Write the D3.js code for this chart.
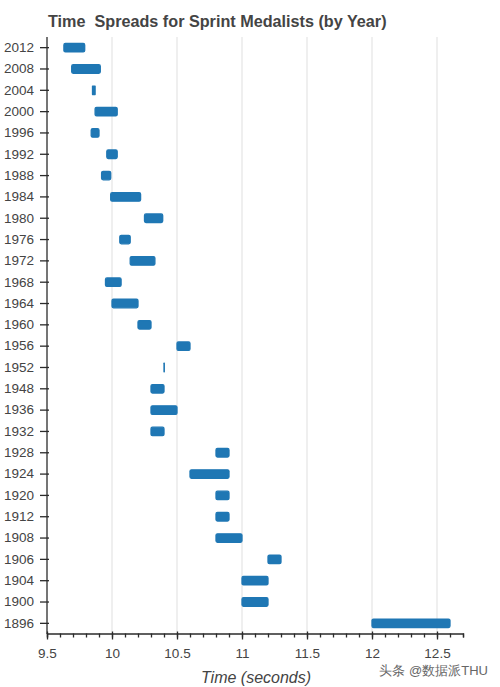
<!DOCTYPE html>
<html>
<head>
<meta charset="utf-8">
<script src="https://cdn.jsdelivr.net/npm/d3@7"></script>
<style>
  body { margin: 0; background: #fff; }
  #chart { width: 500px; height: 687px; }
  text { font-family: "Liberation Sans", Arial, sans-serif; }
</style>
</head>
<body>
<div id="chart"></div>
<script>
// 年（上から順に）
const years = ["2012", "2008", "2004", "2000", "1996", "1992", "1988", "1984", "1980", "1976",
  "1972", "1968", "1964", "1960", "1956", "1952", "1948", "1936", "1932", "1928",
  "1924", "1920", "1912", "1908", "1906", "1904", "1900", "1896"];

// 金メダルのタイム（最速）
const fastest = [9.63, 9.69, 9.85, 9.87, 9.84, 9.96, 9.92, 9.99, 10.25, 10.06,
  10.14, 9.95, 10.0, 10.2, 10.5, 10.4, 10.3, 10.3, 10.3, 10.8,
  10.6, 10.8, 10.8, 10.8, 11.2, 11.0, 11.0, 12.0];

// 銅メダルのタイム（最遅）
const slowest = [9.79, 9.91, 9.87, 10.04, 9.90, 10.04, 9.99, 10.22, 10.39, 10.14,
  10.33, 10.07, 10.2, 10.3, 10.6, 10.4, 10.4, 10.5, 10.4, 10.9,
  10.9, 10.9, 10.9, 11.0, 11.3, 11.2, 11.2, 12.6];

// x軸の目盛り
const xTicks = [9.5, 10, 10.5, 11, 11.5, 12, 12.5];

const data = years.map((y, i) => ({ year: y, lo: fastest[i], hi: slowest[i] }));

const width = 500, height = 687;
const svg = d3.select('#chart').append('svg')
  .attr('width', width)
  .attr('height', height);

const x = d3.scaleLinear().domain([9.5, 12.7]).range([47, 463]);
const y = d3.scaleBand().domain(years).range([37, 634]).padding(0);

const axisColor = '#2b2b2b';
const labelColor = '#444';

// 縦のグリッド線
svg.append('g')
  .selectAll('line')
  .data(xTicks.slice(1))
  .enter()
  .append('line')
  .attr('x1', d => x(d)).attr('x2', d => x(d))
  .attr('y1', 37).attr('y2', 633)
  .attr('stroke', '#e5e5e5')
  .attr('stroke-width', 1.2);

// バー（幅0のものも線として見えるように最小幅を付ける）
const barH = y.bandwidth() * 0.4;
svg.append('g')
  .selectAll('rect')
  .data(data)
  .enter()
  .append('rect')
  .attr('x', d => x(d.lo))
  .attr('y', d => y(d.year) + (y.bandwidth() - barH) / 2)
  .attr('width', d => Math.max(0.3, x(d.hi) - x(d.lo)))
  .attr('height', barH)
  .attr('rx', d => (x(d.hi) - x(d.lo)) > 3 ? 1.5 : 0)
  .attr('fill', '#1f77b4')
  .attr('stroke', '#1f77b4')
  .attr('stroke-width', 1.3)
  .attr('stroke-linejoin', 'round');

// x軸（主目盛り＋副目盛り）
const xAxisG = svg.append('g').attr('transform', 'translate(0,633.5)');
xAxisG.call(d3.axisBottom(x).tickValues(d3.range(95, 128).map(v => v / 10))
  .tickSize(4).tickFormat(''));
xAxisG.selectAll('.tick line').attr('y1', 0);
xAxisG.append('g')
  .call(d3.axisBottom(x).tickValues(xTicks).tickSize(6).tickSizeOuter(0)
    .tickFormat(d => d3.format('')(d)).tickPadding(9))
  .call(g => g.select('.domain').remove())
  .call(g => g.selectAll('.tick line').attr('y1', -2))
  .call(g => g.selectAll('.tick text')
    .attr('font-size', '13.5px')
    .attr('fill', labelColor)
    .attr('font-family', '"Liberation Sans", Arial, sans-serif'));
xAxisG.selectAll('line, path').attr('stroke', axisColor).attr('stroke-width', 1.3);

// y軸
const yAxisG = svg.append('g').attr('transform', 'translate(47,0)')
  .call(d3.axisLeft(y).tickSize(7).tickSizeOuter(0).tickPadding(6));
yAxisG.select('.domain').attr('d', 'M0,37V634');
yAxisG.selectAll('.tick line').attr('x1', 2);
yAxisG.selectAll('line, path').attr('stroke', axisColor).attr('stroke-width', 1.3);
yAxisG.selectAll('.tick text')
  .attr('font-size', '13.5px')
  .attr('fill', labelColor)
  .attr('font-family', '"Liberation Sans", Arial, sans-serif');

// タイトル
svg.append('text')
  .attr('x', 48)
  .attr('y', 26.5)
  .attr('font-size', '16.2px')
  .attr('font-weight', 'bold')
  .attr('fill', '#444')
  .attr('xml:space', 'preserve')
  .text('Time  Spreads for Sprint Medalists (by Year)');

// x軸タイトル
svg.append('text')
  .attr('x', 256)
  .attr('y', 683)
  .attr('text-anchor', 'middle')
  .attr('font-size', '16px')
  .attr('font-style', 'italic')
  .attr('fill', '#444')
  .text('Time (seconds)');

// 透かし
svg.append('text')
  .attr('x', 488)
  .attr('y', 675)
  .attr('text-anchor', 'end')
  .attr('font-size', '13px')
  .attr('fill', '#666')
  .attr('font-family', '"Noto Sans CJK SC", sans-serif')
  .text('头条 @数据派THU');
</script>
</body>
</html>
